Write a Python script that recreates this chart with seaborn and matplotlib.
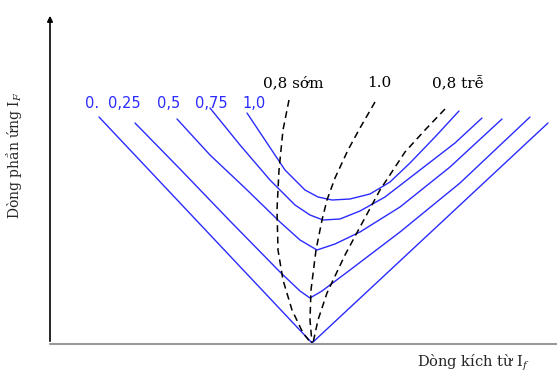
import matplotlib
matplotlib.use("Agg")
import matplotlib.pyplot as plt
import seaborn as sns

# V-curves of a synchronous machine (arbitrary units)
load_labels = ["0.", "0,25", "0,5", "0,75", "1,0"]

x_load_0 = [49, 262, 498]
y_load_0 = [227, 1, 221]

x_load_025 = [85, 130, 180, 230, 250, 260, 272, 300, 350, 410, 480]
y_load_025 = [221, 175, 123, 72, 53, 46, 53, 74, 112, 161, 227]

x_load_05 = [127, 160, 195, 230, 250, 267, 285, 310, 350, 400, 452]
y_load_05 = [225, 189, 156, 122, 104, 94, 100, 112, 137, 177, 225]

x_load_075 = [160, 190, 220, 245, 260, 273, 290, 310, 335, 370, 405, 432]
y_load_075 = [236, 199, 164, 139, 129, 124, 125, 133, 147, 174, 201, 226]

x_load_1 = [197, 215, 235, 255, 268, 282, 300, 320, 340, 360, 385, 409]
y_load_1 = [231, 204, 174, 154, 147, 144, 145, 150, 162, 181, 207, 233]

# constant power-factor loci
pf_labels = ["0,8 sớm", "1.0", "0,8 trễ"]

x_pf_lead = [239, 233, 229, 227, 228, 233, 242, 253, 261]
y_pf_lead = [244, 214, 174, 134, 94, 64, 34, 11, 1]

x_pf_unity = [325, 310, 298, 285, 277, 272, 266, 261, 260, 262]
y_pf_unity = [242, 216, 194, 166, 144, 124, 94, 54, 24, 1]

x_pf_lag = [395, 375, 355, 330, 310, 295, 277, 268, 263]
y_pf_lag = [235, 214, 192, 154, 117, 89, 51, 24, 1]

sns.set_style("white")
plt.rcParams["font.family"] = ["DejaVu Serif"]
plt.rcParams["mathtext.fontset"] = "dejavuserif"

fig = plt.figure(figsize=(5.57, 3.76), dpi=100)
ax = fig.add_axes([0, 0, 1, 1])

blue = "#2b2bff"
load_curves = [
    (x_load_0, y_load_0),
    (x_load_025, y_load_025),
    (x_load_05, y_load_05),
    (x_load_075, y_load_075),
    (x_load_1, y_load_1),
]
for xs, ys in load_curves:
    sns.lineplot(x=xs, y=ys, sort=False, estimator=None, color=blue,
                 linewidth=1.0, ax=ax)

pf_curves = [
    (x_pf_lead, y_pf_lead),
    (x_pf_unity, y_pf_unity),
    (x_pf_lag, y_pf_lag),
]
for xs, ys in pf_curves:
    sns.lineplot(x=xs, y=ys, sort=False, estimator=None, color="black",
                 linewidth=1.1, ax=ax, linestyle=(0, (4.5, 3)))

# curve labels
load_label_x = [35, 58, 107, 145, 192]
for lbl, lx in zip(load_labels, load_label_x):
    ax.text(lx, 241, lbl, color=blue, fontsize=10.5, family="DejaVu Sans",
            ha="left", va="center")

pf_label_x = [213, 317, 382]
for lbl, lx in zip(pf_labels, pf_label_x):
    ax.text(lx, 261, lbl, color="black", fontsize=11, ha="left", va="center")

# axes
ax.annotate("", xy=(0, 331), xytext=(0, 0),
            arrowprops=dict(arrowstyle="-|>", color="black", lw=1.2,
                            mutation_scale=8))
ax.plot([0, 507], [0, 0], color="#999999", linewidth=1.5)

ax.text(-36, 189, "Dòng phần ứng I$_F$", rotation=90, fontsize=10,
        ha="center", va="center")
ax.text(423, -19, "Dòng kích từ I$_f$", fontsize=10.5, ha="center",
        va="center")

ax.set_xlim(-50, 507)
ax.set_ylim(-32, 344)
ax.axis("off")

fig.savefig("out.png", dpi=100)
